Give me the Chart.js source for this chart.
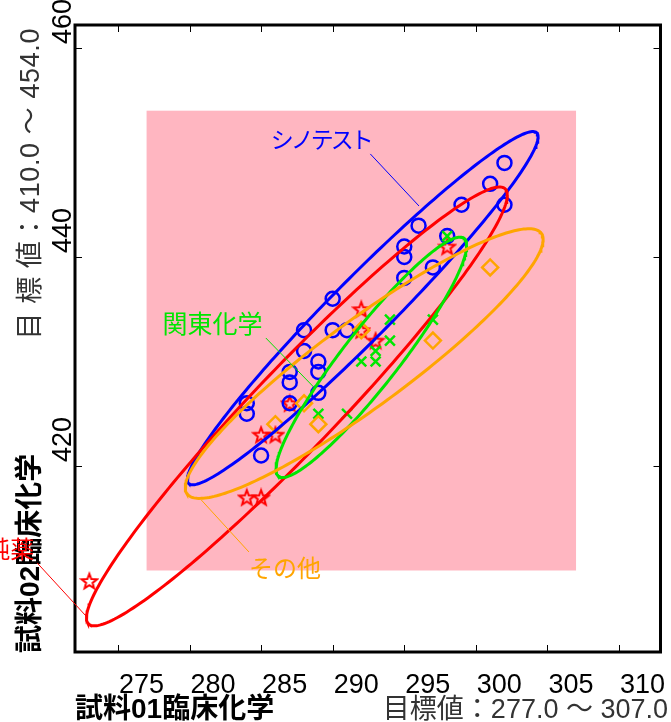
<!DOCTYPE html>
<html>
<head>
<meta charset="utf-8">
<script src="https://cdn.jsdelivr.net/npm/chart.js@4.4.1/dist/chart.umd.min.js"></script>
<style>
html, body { margin: 0; padding: 0; background: #fff; }
#grafico { display: block; }
</style>
</head>
<body>
<canvas id="grafico" width="671" height="722"></canvas>
<script>
const ticksX = [275, 280, 285, 290, 295, 300, 305, 310];
const ticksY = [420, 440, 460];
const objetivoX = [277.0, 307.0];
const objetivoY = [410.0, 454.0];

// シノテスト
const shinoX = [302, 301, 302, 299, 296, 298, 295, 295, 297, 295, 290, 288, 290, 291, 288, 289, 289, 287, 287, 289, 287, 284, 284, 285];
const shinoY = [449, 447, 445, 445, 443, 442, 441, 440, 439, 438, 436, 433, 433, 433, 431, 430, 429, 429, 428, 427, 426, 426, 425, 421];
// 純薬
const junyakuX = [298, 292, 292, 293, 287, 285, 286, 284, 285, 273];
const junyakuY = [441, 435, 433, 432, 426, 423, 423, 417, 417, 409];
// 関東化学
const kantoX = [298, 294, 297, 294, 293, 293, 292, 289, 291];
const kantoY = [442, 434, 434, 432, 431, 430, 430, 425, 425];
// その他
const sonotaX = [301, 297, 292, 288, 286, 289];
const sonotaY = [439, 432, 433, 426, 424, 424];

// elipses: centro x, centro y, semiancho x, semialto y, correlacion
const elipseShino = [292.1, 435.1, 12.25, 16.9, 0.97];
const elipseJunyaku = [287.5, 425.7, 14.7, 21.0, 0.963];
const elipseKanto = [292.7, 430.4, 6.66, 11.5, 0.93];
const elipseSonota = [292.2, 429.8, 12.5, 12.9, 0.92];

const AZUL = '#0000FF', ROJO = '#FF0000', VERDE = '#00E600', NARANJA = '#FFA500';
const fuenteNum = '"Liberation Sans Narrow", "Liberation Sans", Arial, sans-serif';
const fuenteMix = '"Liberation Sans", "Noto Sans CJK JP", sans-serif';
const fuenteJP = '"Noto Sans CJK JP", sans-serif';

// etiquetas con linea guia (coordenadas de datos)
const etiquetas = [
    {texto: 'シノテスト', color: AZUL, tam: 23, esp: -3, x: 285.68, y: 451.3, desde: [292.63, 449.86], hasta: [296.03, 444.88]},
    {texto: '関東化学', color: VERDE, tam: 25, esp: 0, x: 278.11, y: 433.6, desde: [285.33, 432.25], hasta: [288.67, 427.56]},
    {texto: 'その他', color: NARANJA, tam: 24, esp: 0, x: 284.15, y: 410.24, desde: [284.15, 411.77], hasta: [280.82, 416.75]},
    {texto: '純薬', color: ROJO, tam: 24, esp: 0, x: 265.8, y: 412.06, desde: [269.36, 410.72], hasta: [272.83, 405.55]},
];

function puntos(xs, ys) {
    return xs.map((x, i) => ({x: x, y: ys[i]}));
}

function puntosElipse(p) {
    const [cx, cy, rx, ry, r] = p;
    const fase = Math.acos(r);
    const pts = [];
    for (let i = 0; i <= 240; i++) {
        const t = i / 240 * 2 * Math.PI;
        pts.push({x: cx + rx * Math.cos(t), y: cy + ry * Math.cos(t - fase)});
    }
    return pts;
}

function crearEstrella(color) {
    const c = document.createElement('canvas');
    c.width = 20; c.height = 20;
    const g = c.getContext('2d');
    g.strokeStyle = color;
    g.lineWidth = 2;
    g.beginPath();
    for (let i = 0; i < 10; i++) {
        const r = i % 2 ? 3.4 : 8;
        const a = -Math.PI / 2 + i * Math.PI / 5;
        g.lineTo(10 + r * Math.cos(a), 10.8 + r * Math.sin(a));
    }
    g.closePath();
    g.stroke();
    return c;
}

function lineaElipse(p, color) {
    return {data: puntosElipse(p), showLine: true, pointRadius: 0, borderColor: color, borderWidth: 3, fill: false, tension: 0};
}

function textoVertical(ctx, texto, x, y) {
    ctx.save();
    ctx.translate(x, y);
    ctx.rotate(-Math.PI / 2);
    ctx.fillText(texto, 0, 0);
    ctx.restore();
}

const pluginMarco = {
    id: 'marco',
    beforeDatasetsDraw(chart) {
        const {ctx, scales: {x, y}} = chart;
        const x0 = x.getPixelForValue(objetivoX[0]), x1 = x.getPixelForValue(objetivoX[1]);
        const y0 = y.getPixelForValue(objetivoY[1]), y1 = y.getPixelForValue(objetivoY[0]);
        ctx.save();
        ctx.fillStyle = '#FFB6C1';
        ctx.fillRect(x0, y0, x1 - x0, y1 - y0);
        ctx.restore();
    },
    afterDatasetsDraw(chart) {
        const {ctx, chartArea: a, scales: {x, y}} = chart;
        ctx.save();
        // marco
        ctx.strokeStyle = '#000';
        ctx.lineWidth = 3;
        ctx.strokeRect(a.left, a.top, a.right - a.left, a.bottom - a.top);
        ctx.lineWidth = 1;
        ctx.beginPath();
        ticksX.forEach(v => {
            const px = Math.round(x.getPixelForValue(v)) + 0.5;
            ctx.moveTo(px, a.top); ctx.lineTo(px, a.top + 7);
            ctx.moveTo(px, a.bottom); ctx.lineTo(px, a.bottom - 7);
        });
        ticksY.forEach(v => {
            const py = Math.round(y.getPixelForValue(v)) + 0.5;
            ctx.moveTo(a.left, py); ctx.lineTo(a.left + 7, py);
            ctx.moveTo(a.right, py); ctx.lineTo(a.right - 7, py);
        });
        ctx.stroke();

        // etiquetas de ticks
        ctx.fillStyle = '#000';
        ctx.font = '27px ' + fuenteNum;
        ctx.textAlign = 'left';
        ctx.textBaseline = 'alphabetic';
        ticksX.forEach(v => {
            ctx.fillText(String(v), x.getPixelForValue(v) + 1, a.bottom + 41);
        });
        ticksY.forEach(v => {
            textoVertical(ctx, String(v), a.left - 4, y.getPixelForValue(v) - 4);
        });

        // titulos de ejes
        ctx.font = 'bold 28px ' + fuenteMix;
        ctx.fillText('試料01臨床化学', a.left, 718);
        textoVertical(ctx, '試料02臨床化学', 39, a.bottom + 1);

        ctx.fillStyle = '#333';
        ctx.font = '27px ' + fuenteMix;
        ctx.textAlign = 'right';
        ctx.fillText('目標値：277.0 ～ 307.0', 668, 718);
        ctx.letterSpacing = '0.6px';
        textoVertical(ctx, '目 標 値：410.0 ～ 454.0', 39, 28);
        ctx.letterSpacing = '0px';

        // etiquetas de grupos
        ctx.textAlign = 'left';
        ctx.textBaseline = 'middle';
        etiquetas.forEach(e => {
            ctx.strokeStyle = e.color;
            ctx.lineWidth = 1;
            ctx.beginPath();
            ctx.moveTo(x.getPixelForValue(e.desde[0]), y.getPixelForValue(e.desde[1]));
            ctx.lineTo(x.getPixelForValue(e.hasta[0]), y.getPixelForValue(e.hasta[1]));
            ctx.stroke();
            ctx.fillStyle = e.color;
            ctx.font = e.tam + 'px ' + fuenteJP;
            ctx.letterSpacing = e.esp + 'px';
            ctx.fillText(e.texto, x.getPixelForValue(e.x), y.getPixelForValue(e.y));
        });
        ctx.restore();
    }
};

function iniciarGrafico() {
    const ctx = document.getElementById('grafico');
    const estrella = crearEstrella(ROJO);

    new Chart(ctx, {
        type: 'scatter',
        data: {
            datasets: [
                lineaElipse(elipseSonota, NARANJA),
                lineaElipse(elipseKanto, VERDE),
                lineaElipse(elipseJunyaku, ROJO),
                lineaElipse(elipseShino, AZUL),
                {data: puntos(sonotaX, sonotaY), pointStyle: 'rectRot', pointRadius: 8, borderColor: NARANJA, borderWidth: 2.5, backgroundColor: 'rgba(0,0,0,0)'},
                {data: puntos(kantoX, kantoY), pointStyle: 'crossRot', pointRadius: 7, borderColor: VERDE, borderWidth: 2.5},
                {data: puntos(shinoX, shinoY), pointStyle: 'circle', pointRadius: 7, borderColor: AZUL, borderWidth: 2.5, backgroundColor: 'rgba(0,0,0,0)'},
                {data: puntos(junyakuX, junyakuY), pointStyle: estrella, pointRadius: 8, borderColor: ROJO},
            ]
        },
        options: {
            responsive: false,
            animation: false,
            devicePixelRatio: 1,
            events: [],
            layout: {padding: {left: 75, right: 7, top: 25, bottom: 70}},
            plugins: {legend: {display: false}, tooltip: {enabled: false}},
            scales: {
                x: {type: 'linear', display: false, min: 272, max: 312.9},
                y: {type: 'linear', display: false, min: 402.2, max: 462.2}
            }
        },
        plugins: [pluginMarco]
    });
}

iniciarGrafico();
</script>
</body>
</html>
